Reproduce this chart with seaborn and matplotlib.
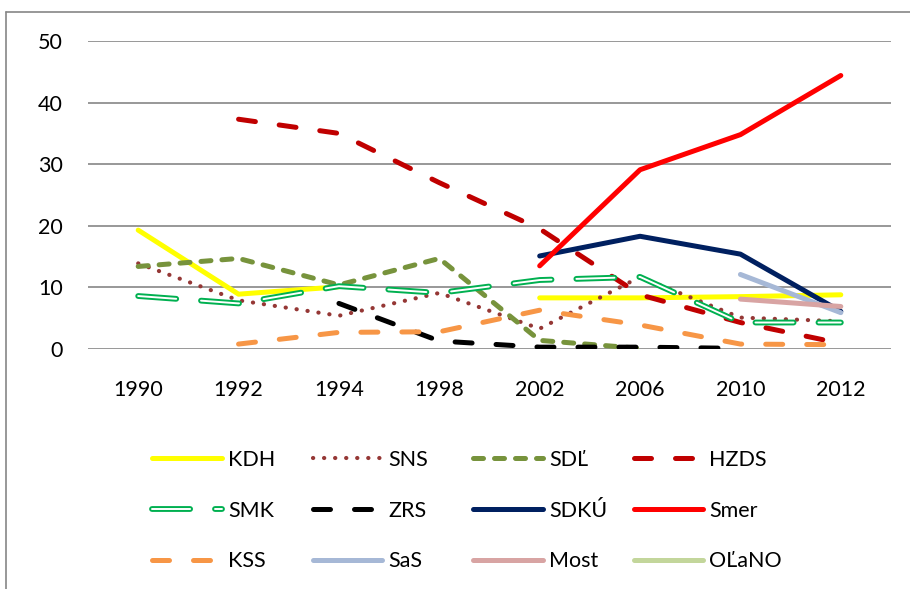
import pandas as pd
import matplotlib.pyplot as plt
import matplotlib.patheffects as pe
from matplotlib.lines import Line2D
import seaborn as sns

years = ["1990", "1992", "1994", "1998", "2002", "2006", "2010", "2012"]

kdh = [19.3, 8.9, 10.1, None, 8.3, 8.3, 8.5, 8.8]
sns_party = [13.9, 7.9, 5.4, 9.1, 3.3, 11.7, 5.1, 4.5]
sdl = [13.4, 14.7, 10.4, 14.7, 1.4, 0.1, None, None]
hzds = [None, 37.3, 35.0, 27.0, 19.5, 8.8, 4.3, 0.9]
smk = [8.6, 7.4, 10.2, 9.1, 11.2, 11.7, 4.3, 4.3]
zrs = [None, None, 7.4, 1.3, 0.3, 0.3, 0.1, None]
sdku = [None, None, None, None, 15.1, 18.3, 15.4, 6.1]
smer = [None, None, None, None, 13.5, 29.1, 34.8, 44.4]
kss = [None, 0.8, 2.7, 2.8, 6.3, 3.9, 0.8, 0.7]
sas = [None, None, None, None, None, None, 12.1, 5.9]
most = [None, None, None, None, None, None, 8.1, 6.9]
olano = [None, None, None, None, None, None, None, 8.6]

parties = ["KDH", "SNS", "SDĽ", "HZDS", "SMK", "ZRS", "SDKÚ", "Smer",
           "KSS", "SaS", "Most", "OĽaNO"]
series = [kdh, sns_party, sdl, hzds, smk, zrs, sdku, smer, kss, sas, most, olano]

rows = []
for name, vals in zip(parties, series):
    seg = 0
    prev = False
    for i, v in enumerate(vals):
        if v is None:
            prev = False
            continue
        if not prev:
            seg += 1
        prev = True
        rows.append({"party": name, "seg": seg, "pos": i, "value": v})
df = pd.DataFrame(rows)

LW = 3.6
styles = {
    "KDH": dict(color="#FFFF00", lw=LW),
    "SNS": dict(color="#953735", lw=3.0, dashes=(0.05, 2.6), dash_capstyle="round"),
    "SDĽ": dict(color="#77933C", lw=LW, dashes=(2.0, 2.2), dash_capstyle="round"),
    "HZDS": dict(color="#C00000", lw=LW, dashes=(3.4, 4.8), dash_capstyle="round"),
    "SMK": dict(color="white", lw=1.4, dashes=(19.6, 12.8), dash_capstyle="round",
                path_effects=[pe.Stroke(linewidth=4.2, foreground="#00B050"), pe.Normal()]),
    "ZRS": dict(color="black", lw=LW, dashes=(3.4, 4.8), dash_capstyle="round"),
    "SDKÚ": dict(color="#002060", lw=LW),
    "Smer": dict(color="#FF0000", lw=LW),
    "KSS": dict(color="#F79646", lw=LW, dashes=(3.4, 4.8), dash_capstyle="round"),
    "SaS": dict(color="#A6B8D6", lw=LW),
    "Most": dict(color="#D8A4A3", lw=LW),
    "OĽaNO": dict(color="#C3D69B", lw=LW),
}

sns.set_style("white")
plt.rcParams["font.family"] = ["Lato", "DejaVu Sans"]
plt.rcParams["text.color"] = "black"
plt.rcParams["xtick.color"] = "black"
plt.rcParams["ytick.color"] = "black"

fig = plt.figure(figsize=(9.1, 5.89), dpi=100, facecolor="white")
ax = fig.add_axes([88 / 910, 1 - 349 / 589, (891 - 88) / 910, (349 - 41) / 589])

for name in parties:
    part = df[df["party"] == name]
    for s, sub in part.groupby("seg"):
        st = dict(styles[name])
        dashes = st.pop("dashes", None)
        sns.lineplot(data=sub, x="pos", y="value", ax=ax, estimator=None,
                     legend=False, sort=False, **st)
        if dashes is not None:
            ax.lines[-1].set_dashes(dashes)

for y in range(0, 51, 10):
    ax.axhline(y, color="#868686", lw=1.2, zorder=0)

ax.set_xlim(-0.5, 7.5)
ax.set_ylim(0, 50)
ax.set_xticks(range(len(years)))
ax.set_xticklabels(years)
ax.set_yticks(range(0, 51, 10))
ax.tick_params(axis="x", length=0, pad=22, labelsize=15.5, labelcolor="black")
ax.tick_params(axis="y", length=0, pad=18, labelsize=15.5, labelcolor="black")
ax.set_xlabel("")
ax.set_ylabel("")
for sp in ax.spines.values():
    sp.set_visible(False)

handles = {}
for name in parties:
    st = dict(styles[name])
    dashes = st.pop("dashes", None)
    h = Line2D([], [], label=name, **st)
    if dashes is not None:
        h.set_dashes(dashes)
    handles[name] = h

# legend laid out as 4 fixed columns, rows read left to right
for c in range(4):
    col = [handles[parties[c + 4 * r]] for r in range(3)]
    fig.legend(handles=col, ncol=1, loc="upper left",
               bbox_to_anchor=((152 + 160.5 * c) / 910, 1 - 450 / 589),
               frameon=False, fontsize=15.5, handlelength=3.25, handletextpad=0.28,
               labelspacing=1.42, borderpad=0, borderaxespad=0, labelcolor="black")

# outer chart frame
fig.add_artist(Line2D([6 / 910, 6 / 910], [0, 1 - 12 / 589], transform=fig.transFigure,
                      color="#868686", lw=1.2))
fig.add_artist(Line2D([6 / 910, 1], [1 - 12 / 589, 1 - 12 / 589], transform=fig.transFigure,
                      color="#868686", lw=1.2))

fig.savefig("out.png", dpi=100, facecolor="white")
